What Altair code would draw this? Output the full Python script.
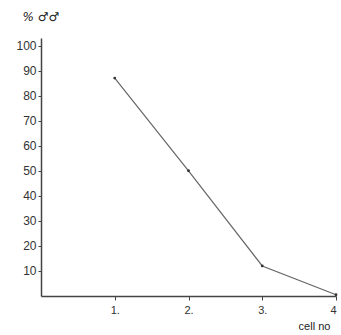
import altair as alt
import pandas as pd

cells = [1, 2, 3, 4]
pct_males = [87, 50, 12, 0.5]
x_ticks = [1, 2, 3, 4]
x_tick_labels = ["1.", "2.", "3.", "4"]
y_ticks = [10, 20, 30, 40, 50, 60, 70, 80, 90, 100]

df = pd.DataFrame({"cell": cells, "pct": pct_males})

label_expr = "{" + ",".join(f"'{t}':'{l}'" for t, l in zip(x_ticks, x_tick_labels)) + "}[datum.value]"

x = alt.X("cell:Q",
          scale=alt.Scale(domain=[0, 4], nice=False, zero=True),
          axis=alt.Axis(values=x_ticks, labelExpr=label_expr, title="cell no",
                        grid=False, domainColor="#444", domainWidth=1.5,
                        tickColor="#444", tickSize=4, tickOffset=0,
                        labelFont="Liberation Sans", labelFontSize=11, labelColor="#333",
                        labelPadding=4,
                        titleFont="Liberation Sans", titleFontSize=11, titleFontWeight="normal",
                        titleColor="#222", titleX=273, titleY=30, titleAlign="center",
                        titleBaseline="middle", titleAngle=0))
y = alt.Y("pct:Q",
          scale=alt.Scale(domain=[0, 103], nice=False),
          axis=alt.Axis(values=y_ticks, title="% \u2642\ufe0e\u2642\ufe0e",
                        grid=False, domainColor="#444", domainWidth=1.5,
                        tickColor="#444", tickSize=3,
                        labelFont="Liberation Sans", labelFontSize=12, labelColor="#333",
                        labelPadding=2,
                        titleFont="DejaVu Sans", titleFontSize=12, titleFontWeight="normal",
                        titleFontStyle="italic",
                        titleColor="#222", titleAngle=0, titleX=-19, titleY=-22,
                        titleAlign="left", titleBaseline="middle"))

line = alt.Chart(df).mark_line(color="#666", strokeWidth=1.2).encode(x=x, y=y)
pts = alt.Chart(df).mark_circle(color="#333", size=8, opacity=1).encode(x=x, y=y)

chart = (line + pts).properties(
    width=295, height=258,
    autosize=alt.AutoSizeParams(type="none"),
    padding={"left": 41, "top": 38, "right": 5, "bottom": 39},
    background="white",
).configure_view(stroke=None)

chart.save("out.html", embed_options={"renderer": "svg", "actions": False})
